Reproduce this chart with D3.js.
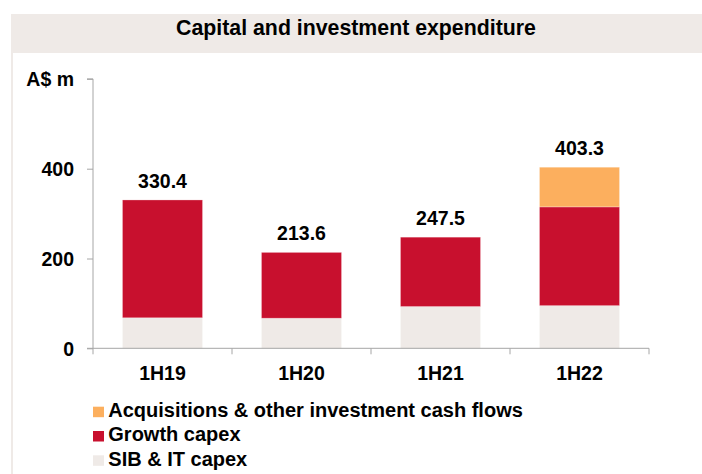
<!DOCTYPE html>
<html>
<head>
<meta charset="utf-8">
<script src="https://cdn.jsdelivr.net/npm/d3@7"></script>
<style>
  html, body { margin: 0; padding: 0; background: #fff; }
  svg { display: block; font-family: "Liberation Sans", Arial, sans-serif; font-weight: bold; }
</style>
</head>
<body>
<svg id="chart" width="702" height="474"></svg>
<script>
const categories = ["1H19", "1H20", "1H21", "1H22"];
const sibCapex = [68, 67, 93, 95];
const growthCapex = [262.4, 146.6, 154.5, 220];
const acquisitions = [0, 0, 0, 88.3];
const totals = [330.4, 213.6, 247.5, 403.3];
const yTicks = [0, 200, 400, 600];
const seriesNames = ["SIB & IT capex", "Growth capex", "Acquisitions & other investment cash flows"];
const seriesColors = ["#EFEAE7", "#C8102E", "#FCAF5E"];
const title = "Capital and investment expenditure";
const unitLabel = "A$ m";

const svg = d3.select("#chart");
const W = 702, H = 474;
const FONT = "Liberation Sans, Arial, sans-serif";

// panel frame
svg.append("rect").attr("x", 11).attr("y", 14).attr("width", W - 11).attr("height", 39).attr("fill", "#EFEAE7");
svg.append("rect").attr("x", 11).attr("y", 53).attr("width", 2).attr("height", H - 53).attr("fill", "#EFEAE7");
svg.append("text").attr("x", 356).attr("y", 35).attr("text-anchor", "middle")
  .attr("font-size", 21.3).attr("fill", "#000").text(title);

const x = d3.scaleBand().domain(categories).range([93, 649]).paddingInner(0.424).paddingOuter(0.212);
const y = d3.scaleLinear().domain([0, 600]).range([348.3, 78.9]);

const rows = categories.map((c, i) => ({ cat: c, sib: sibCapex[i], growth: growthCapex[i], acq: acquisitions[i] }));
const stack = d3.stack().keys(["sib", "growth", "acq"])(rows);

const g = svg.append("g");
g.selectAll("g.series").data(stack).join("g").attr("class", "series")
  .attr("fill", (d, i) => seriesColors[i])
  .selectAll("rect").data(d => d.filter(p => p[1] - p[0] > 0)).join("rect")
  .attr("x", d => x(d.data.cat))
  .attr("width", x.bandwidth())
  .attr("y", d => y(d[1]))
  .attr("height", d => y(d[0]) - y(d[1]))
  .attr("stroke", "rgba(255,255,255,0.35)").attr("stroke-width", 0.8);

// Y axis
const yAxis = d3.axisLeft(y).tickValues(yTicks).tickSize(6).tickPadding(13)
  .tickFormat(d => d === 600 ? unitLabel : d3.format("d")(d));
const ya = svg.append("g").attr("transform", "translate(93,0)").call(yAxis);
ya.select(".domain").attr("stroke", "#A6A6A6").attr("d", `M-6,${y(600)}H0V${y(0)}`);
ya.selectAll(".tick line").attr("stroke", "#A6A6A6");
ya.selectAll(".tick text").attr("font-size", 19.5).attr("font-family", FONT)
  .attr("font-weight", "bold").attr("fill", "#000").attr("dy", "0.36em");

// X axis
const xAxis = d3.axisBottom(x).tickSize(0).tickPadding(18);
const xa = svg.append("g").attr("transform", `translate(0,${y(0)})`).call(xAxis);
xa.select(".domain").attr("stroke", "#A6A6A6").attr("d", `M87,0H649`);
xa.selectAll(".tick text").attr("font-size", 19.5).attr("font-family", FONT)
  .attr("font-weight", "bold").attr("fill", "#000");
const step = x.step();
const bounds = [93].concat(categories.map(c => x(c) + x.bandwidth() + (step - x.bandwidth()) / 2));
svg.append("g").selectAll("line").data(bounds).join("line")
  .attr("x1", d => d).attr("x2", d => d).attr("y1", y(0)).attr("y2", y(0) + 6)
  .attr("stroke", "#A6A6A6");

// value labels
svg.append("g").selectAll("text").data(categories).join("text")
  .attr("x", c => x(c) + x.bandwidth() / 2)
  .attr("y", (c, i) => y(totals[i]) - 12)
  .attr("text-anchor", "middle").attr("font-size", 19.5).attr("fill", "#000")
  .text((c, i) => d3.format(".1f")(totals[i]));

// legend
const legendOrder = [2, 1, 0];
const lg = svg.append("g").selectAll("g").data(legendOrder).join("g")
  .attr("transform", (d, i) => `translate(93,${406.7 + i * 24.3})`);
lg.append("rect").attr("width", 11).attr("height", 10.5).attr("fill", d => seriesColors[d]);
lg.append("text").attr("x", 15.3).attr("y", 10.3).attr("font-size", 20).attr("fill", "#000")
  .text(d => seriesNames[d]);
</script>
</body>
</html>
